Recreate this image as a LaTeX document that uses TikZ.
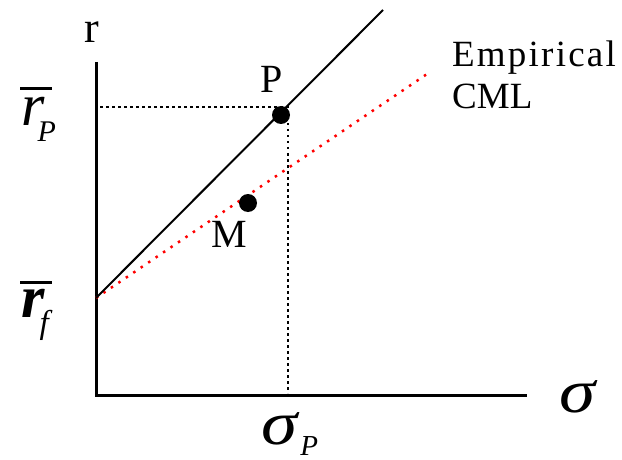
\documentclass[tikz,border=0pt]{standalone}
\usepackage{fontspec}
\setmainfont{Liberation Serif}
\newcommand{\widesig}{\scalebox{1.18}[1]{σ}}
\begin{document}
\begin{tikzpicture}[x=1pt,y=-1pt,
  dotnode/.style={circle,fill=black,inner sep=0pt,minimum size=18pt},
  lbl/.style={inner sep=0pt,anchor=base west},
  axisline/.style={line width=3pt},
  cml/.style={line width=2pt},
  emp/.style={red,line width=2.5pt,dash pattern=on 2.5pt off 6.5pt},
  guide/.style={black,line width=2.5pt,dash pattern=on 2.5pt off 3.5pt},
  bar/.style={line width=3pt}]
\useasboundingbox (0,0) rectangle (622,460);
% axes
\coordinate (ytop) at (96,62);
\coordinate (orig) at (96,395);
\coordinate (xend) at (527,395);
\draw[axisline] (ytop) -- (orig) -- (xend);
% lines
\coordinate (rf) at (96,298);
\coordinate (cmlend) at (383,10);
\coordinate (empend) at (430,72);
\draw[emp] (rf) -- (empend);
\draw[cml] (rf) -- (cmlend);
% guides
\coordinate (gy) at (100,107);
\coordinate (gc) at (288,107);
\coordinate (gx) at (288,393);
\draw[guide] (gy) -- (gc) -- (gx);
% dots
\node[dotnode] (Pdot) at (281,115) {};
\node[dotnode] (Mdot) at (248,203) {};
% labels
\node[lbl] (rlab) at (84,43) {\fontsize{44}{44}\selectfont r};
\node[lbl] (Plab) at (260,93) {\fontsize{40}{40}\selectfont P};
\node[lbl] (Mlab) at (211,247) {\fontsize{40}{40}\selectfont M};
\node[lbl] (emp1) at (452,67) {\fontsize{37}{37}\selectfont\addfontfeature{LetterSpace=6}Empirical};
\node[lbl] (emp2) at (452,109) {\fontsize{37}{37}\selectfont CML};
\node[lbl] (sig) at (559,412) {\fontsize{62}{62}\selectfont\itshape\widesig};
\node[lbl] (sigP) at (261,444) {\fontsize{62}{62}\selectfont\itshape\widesig\kern3pt\fontsize{29}{29}\selectfont\raisebox{-11pt}{P}};
\node[lbl] (rP) at (21,125) {\fontsize{60}{60}\selectfont\itshape r\kern-7pt\fontsize{30}{30}\selectfont\raisebox{-17pt}{P}};
\node[lbl] (rF) at (21,317) {\fontsize{60}{60}\selectfont\bfseries\itshape r\kern-5pt\mdseries\fontsize{33}{33}\selectfont\raisebox{-16pt}{f}};
\draw[bar] (20,89) -- (52,89);
\draw[bar] (20,282) -- (52,282);
\end{tikzpicture}
\end{document}
